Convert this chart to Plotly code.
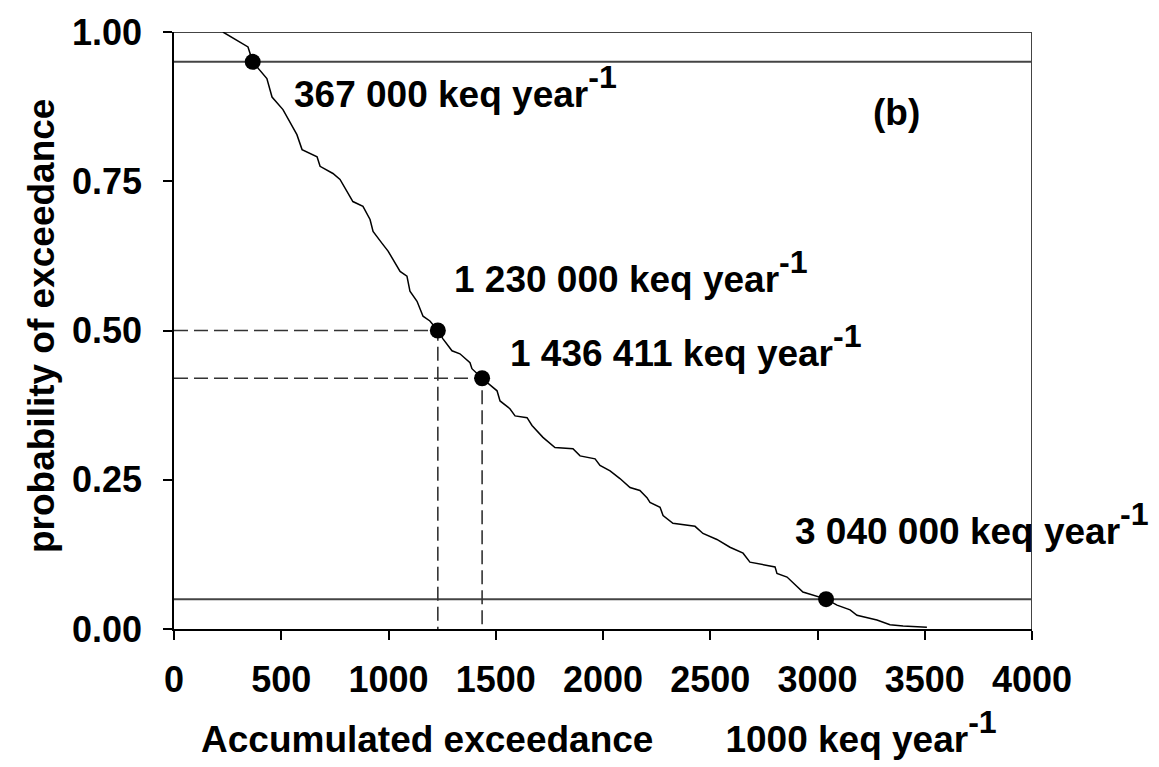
import plotly.graph_objects as go

# ---- data ----
acc = [228, 275, 345, 367, 433, 457, 508, 573, 597, 667, 681, 741, 774, 834, 881, 914,
       928, 970, 998, 1054, 1086, 1100, 1133, 1161, 1193, 1230, 1254, 1296, 1333, 1380,
       1389, 1436, 1506, 1520, 1566, 1590, 1646, 1669, 1720, 1776, 1860, 1893, 1963,
       1986, 2033, 2079, 2126, 2172, 2205, 2219, 2266, 2280, 2326, 2429, 2466, 2531,
       2592, 2653, 2685, 2802, 2811, 2858, 2886, 2932, 3040, 3091, 3152, 3184, 3277,
       3338, 3399, 3510]
prob = [1.000, 0.990, 0.975, 0.950, 0.922, 0.891, 0.870, 0.828, 0.803, 0.791, 0.775,
        0.763, 0.753, 0.716, 0.708, 0.686, 0.666, 0.646, 0.633, 0.599, 0.591, 0.566,
        0.549, 0.524, 0.516, 0.500, 0.486, 0.466, 0.461, 0.446, 0.436, 0.420, 0.399,
        0.382, 0.369, 0.357, 0.354, 0.341, 0.321, 0.304, 0.302, 0.290, 0.285, 0.274,
        0.265, 0.252, 0.237, 0.232, 0.220, 0.212, 0.204, 0.190, 0.177, 0.172, 0.160,
        0.150, 0.137, 0.127, 0.112, 0.104, 0.093, 0.087, 0.077, 0.062, 0.050, 0.040,
        0.032, 0.023, 0.015, 0.007, 0.005, 0.003]

pt_x = [367, 1230, 1436.411, 3040]
pt_y = [0.95, 0.50, 0.42, 0.05]
pt_labels = ["367 000", "1 230 000", "1 436 411", "3 040 000"]
label_x = [550, 1296, 1557, 2886]
label_y = [0.893, 0.583, 0.459, 0.160]
dashed_points = [1, 2]
ref_levels = [0.95, 0.05]

x_ticks = [0, 500, 1000, 1500, 2000, 2500, 3000, 3500, 4000]
y_ticks = [0.0, 0.25, 0.50, 0.75, 1.00]
x_range = [0, 4000]
y_range = [0, 1]

FONT = "Liberation Sans, Arial, sans-serif"
GREY = "#444444"

fig = go.Figure()

# dashed guide lines
for i in dashed_points:
    fig.add_trace(go.Scatter(
        x=[x_range[0], pt_x[i], pt_x[i]], y=[pt_y[i], pt_y[i], y_range[0]],
        mode="lines", line=dict(color="#333333", width=1.6, dash="14px,6px"),
        showlegend=False, hoverinfo="skip"))

# curve
fig.add_trace(go.Scatter(x=acc, y=prob, mode="lines",
                         line=dict(color="black", width=1.5),
                         showlegend=False))

# points
fig.add_trace(go.Scatter(x=pt_x, y=pt_y, mode="markers",
                         marker=dict(color="black", size=16),
                         showlegend=False))

# solid reference lines and frame
for lv in ref_levels + [y_range[1]]:
    fig.add_shape(type="line", xref="x", yref="y", x0=x_range[0], x1=x_range[1],
                  y0=lv, y1=lv, line=dict(color=GREY, width=2), layer="below")
fig.add_shape(type="line", xref="x", yref="y", x0=x_range[1], x1=x_range[1],
              y0=y_range[0], y1=y_range[1], line=dict(color=GREY, width=2), layer="below")

sup = '<span style="font-size:46px"><sup>-1</sup></span>'
for lx, ly, t in zip(label_x, label_y, pt_labels):
    fig.add_annotation(x=lx, y=ly, xref="x", yref="y", xanchor="left", yanchor="middle",
                       yshift=9,
                       text=f"<b>{t} keq year{sup}</b>", showarrow=False,
                       font=dict(family=FONT, size=37, color="black"))

fig.add_annotation(x=3366, y=0.865, xref="x", yref="y", xanchor="center", yanchor="middle",
                   text="<b>(b)</b>", showarrow=False,
                   font=dict(family=FONT, size=37, color="black"))

# axis titles
gap = "&nbsp;" * 6
fig.add_annotation(x=0.029, y=-0.19, xref="paper", yref="paper", xanchor="left",
                   yanchor="middle", yshift=10,
                   text=f"<b>Accumulated exceedance {gap}1000 keq year{sup}</b>",
                   showarrow=False, font=dict(family=FONT, size=37, color="black"))
fig.add_annotation(x=-0.155, y=0.5075, xref="paper", yref="paper", xanchor="center",
                   yanchor="middle", textangle=-90, text="<b>probability of exceedance</b>",
                   showarrow=False, font=dict(family=FONT, size=37, color="black"))

tickfont = dict(family=FONT, size=36, color="black", weight="bold")
fig.update_xaxes(range=x_range, tickvals=x_ticks, ticktext=[str(v) for v in x_ticks],
                 ticks="outside", ticklen=9, tickwidth=1.5, tickcolor="black",
                 showline=True, linecolor="black", linewidth=1.5, showgrid=False,
                 zeroline=False, tickfont=tickfont, ticklabelstandoff=9)
fig.update_yaxes(range=y_range, tickvals=y_ticks, tickformat=".2f",
                 ticks="outside", ticklen=9, tickwidth=1.5, tickcolor="black",
                 showline=True, linecolor="black", linewidth=1.5, showgrid=False,
                 zeroline=False, tickfont=tickfont, ticklabelstandoff=14)

fig.update_layout(width=1159, height=767,
                  margin=dict(l=174, r=127, t=30, b=138),
                  plot_bgcolor="white", paper_bgcolor="white",
                  font=dict(family=FONT))

fig.write_html("out.html")
